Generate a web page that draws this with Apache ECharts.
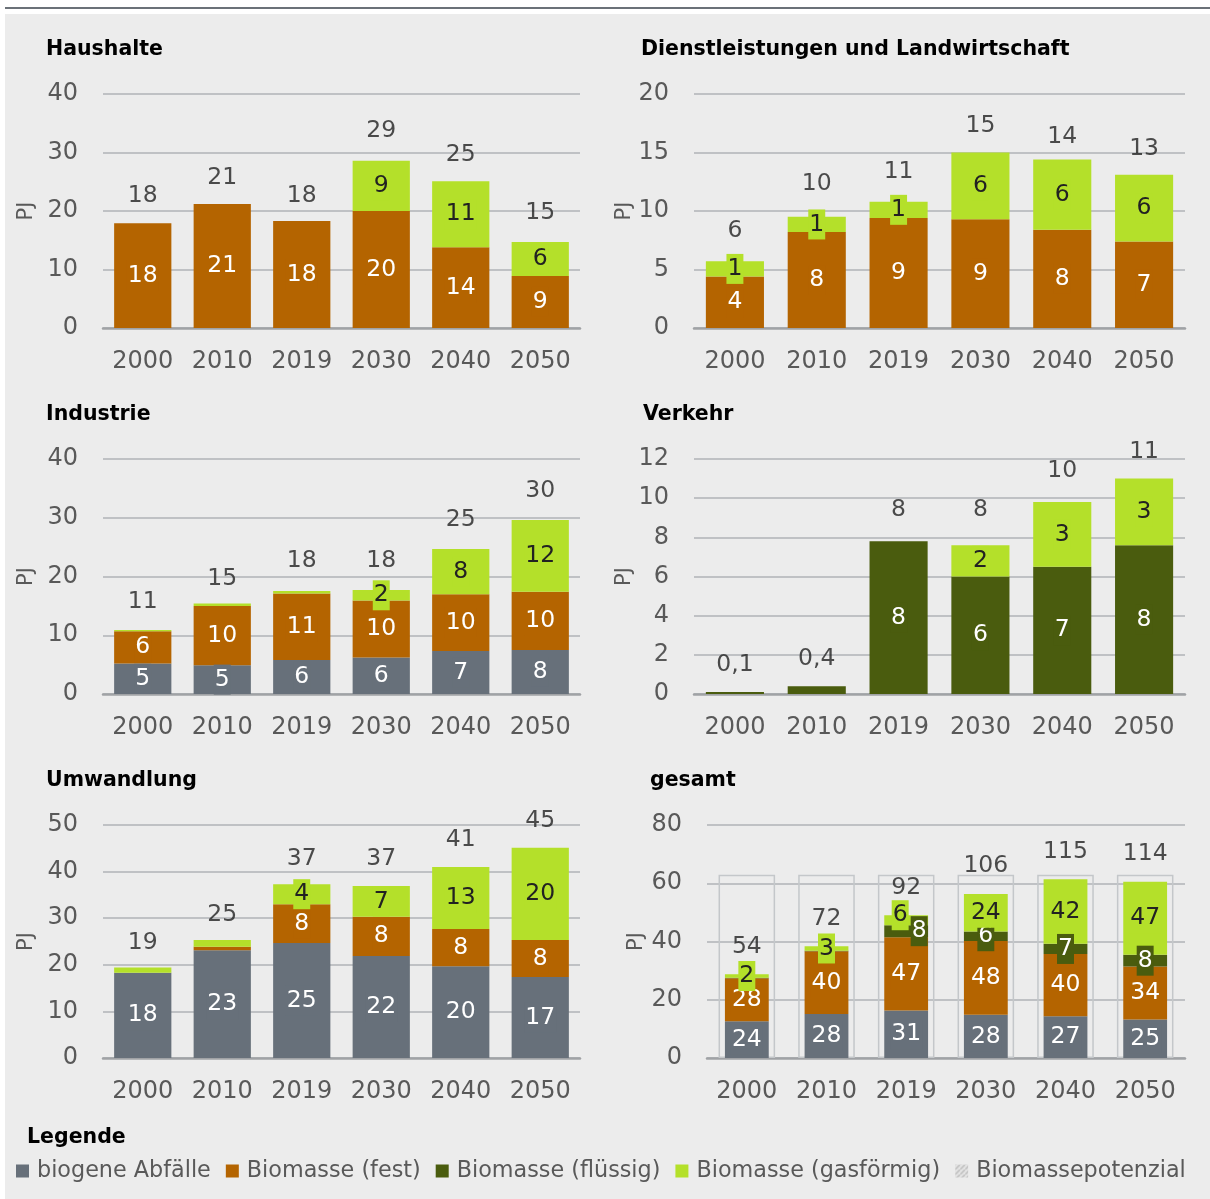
<!DOCTYPE html>
<html>
<head>
<meta charset="utf-8">
<script src="https://cdn.jsdelivr.net/npm/echarts@6/dist/echarts.min.js"></script>
<style>
  html, body { margin: 0; padding: 0; background: #fff; }
  .topline { position: absolute; left: 5px; top: 7px; width: 1205px; height: 2px; background: #6b7178; }
  .panel { position: absolute; left: 5px; top: 14px; width: 1205px; height: 1185px; background: #ececec; }
  #chart { position: absolute; left: 0; top: 0; width: 1210px; height: 1199px; }
</style>
</head>
<body>
<div class="topline"></div>
<div class="panel"></div>
<div id="chart"></div>
<script>
const years = ['2000', '2010', '2019', '2030', '2040', '2050']

// Haushalte
const hhFest = [17.9, 21.2, 18.3, 20.0, 13.8, 8.9]
const hhGas = [0, 0, 0, 8.6, 11.3, 5.8]
const hhTotal = [18, 21, 18, 29, 25, 15]

// Dienstleistungen und Landwirtschaft
const dlFest = [4.4, 8.2, 9.4, 9.3, 8.4, 7.4]
const dlGas = [1.3, 1.3, 1.4, 5.7, 6.0, 5.7]
const dlTotal = [6, 10, 11, 15, 14, 13]

// Industrie
const inAbf = [5.2, 4.9, 5.8, 6.2, 7.3, 7.5]
const inFest = [5.5, 10.1, 11.3, 9.7, 9.7, 9.9]
const inGas = [0.2, 0.4, 0.45, 1.8, 7.7, 12.2]
const inTotal = [11, 15, 18, 18, 25, 30]

// Verkehr
const vkFl = [0.1, 0.4, 7.8, 6.0, 6.5, 7.6]
const vkGas = [0, 0, 0, 1.6, 3.3, 3.4]
const vkTotal = [0.1, 0.4, 8, 8, 10, 11]

// Umwandlung
const umAbf = [18.3, 23.1, 24.7, 21.9, 19.7, 17.4]
const umFest = [0, 0.8, 8.3, 8.4, 8.0, 7.9]
const umGas = [1.1, 1.4, 4.3, 6.6, 13.3, 19.8]
const umTotal = [19, 25, 37, 37, 41, 45]

// gesamt
const gsAbf = [23.6, 28.3, 30.5, 27.8, 26.8, 24.8]
const gsFest = [27.8, 40.4, 47.3, 47.6, 40.1, 34.1]
const gsFl = [0.3, 0.4, 7.7, 6.0, 6.6, 7.5]
const gsGas = [2.2, 2.8, 6.4, 24.2, 41.6, 47.0]
const gsTotal = [54, 72, 92, 106, 115, 114]
const gsPot = [118, 118, 118, 118, 118, 118]
const gsTicks = ['0', '20', '40', '60', '80']

const FONT = 'DejaVu Sans'
const TXT = '#595959'
const COLORS = {
  abf: '#67707a',
  fest: '#b46400',
  fl: '#4a5c0e',
  gas: '#b4e02a'
}
const NAMES = {
  abf: 'biogene Abfälle',
  fest: 'Biomasse (fest)',
  fl: 'Biomasse (flüssig)',
  gas: 'Biomasse (gasförmig)'
}
const LABEL_COLORS = { abf: '#fff', fest: '#fff', fl: '#fff', gas: '#222' }

const panels = [
  { title: 'Haushalte', tx: 46, ty: 39, grid: { left: 103, top: 94, width: 477, height: 234 },
    max: 40, interval: 10, nameGap: 66, barWidth: '72%', minLabel: 1,
    series: { fest: hhFest, gas: hhGas }, total: hhTotal },
  { title: 'Dienstleistungen und Landwirtschaft', tx: 641, ty: 39, grid: { left: 694, top: 94, width: 491, height: 234 },
    max: 20, interval: 5, nameGap: 47, barWidth: '71%', minLabel: 1,
    series: { fest: dlFest, gas: dlGas }, total: dlTotal },
  { title: 'Industrie', tx: 46, ty: 404, grid: { left: 103, top: 459, width: 477, height: 235 },
    max: 40, interval: 10, nameGap: 66, barWidth: '72%', minLabel: 1,
    series: { abf: inAbf, fest: inFest, gas: inGas }, total: inTotal },
  { title: 'Verkehr', tx: 643, ty: 404, grid: { left: 694, top: 459, width: 491, height: 235 },
    max: 12, interval: 2, nameGap: 48, barWidth: '71%', minLabel: 1,
    series: { fl: vkFl, gas: vkGas }, total: vkTotal },
  { title: 'Umwandlung', tx: 46, ty: 770, grid: { left: 103, top: 825, width: 477, height: 233 },
    max: 50, interval: 10, nameGap: 66, barWidth: '72%', minLabel: 2,
    series: { abf: umAbf, fest: umFest, gas: umGas }, total: umTotal },
  { title: 'gesamt', tx: 650, ty: 770, grid: { left: 707, top: 825, width: 478, height: 233 },
    max: 150, interval: 37.5, ticks: gsTicks, nameGap: 60, barWidth: '55%', minLabel: 1,
    series: { abf: gsAbf, fest: gsFest, fl: gsFl, gas: gsGas }, total: gsTotal,
    potential: gsPot,
    offsets: { gas: { 2: [-6, -5] }, fl: { 2: [13, 0] } } }
]

const option = {
  animation: false,
  title: [],
  grid: [],
  xAxis: [],
  yAxis: [],
  series: []
}

panels.forEach((p, i) => {
  option.title.push({
    text: p.title, left: p.tx, top: p.ty, padding: 0,
    textStyle: { fontFamily: FONT, fontWeight: 'bold', fontSize: 20.5, color: '#000' }
  })
  option.grid.push(Object.assign({ containLabel: false }, p.grid))
  option.xAxis.push({
    type: 'category', gridIndex: i, data: years,
    axisTick: { show: false },
    axisLine: { lineStyle: { color: '#a0a2a5', width: 2.5 } },
    axisLabel: { fontFamily: FONT, fontSize: 24, color: TXT, margin: 22 }
  })
  option.yAxis.push({
    type: 'value', gridIndex: i, min: 0, max: p.max, interval: p.interval,
    name: 'PJ', nameLocation: 'middle', nameGap: p.nameGap,
    nameTextStyle: { fontFamily: FONT, fontSize: 21, color: TXT },
    axisLabel: {
      fontFamily: FONT, fontSize: 24, color: TXT, margin: 25, padding: [5, 0, 0, 0],
      formatter: p.ticks ? (v, idx) => p.ticks[idx] : null
    },
    splitLine: { lineStyle: { color: '#bfc1c4', width: 2 } }
  })
  const xIdx = option.xAxis.length - 1
  const yIdx = option.yAxis.length - 1

  if (p.potential) {
    option.xAxis.push({ type: 'category', gridIndex: i, data: years, show: false })
    option.series.push({
      name: 'Biomassepotenzial', type: 'bar',
      xAxisIndex: option.xAxis.length - 1, yAxisIndex: yIdx,
      data: p.potential, barWidth: '71%', z: 1, silent: true,
      itemStyle: { color: 'rgba(0,0,0,0)', borderColor: '#c4c7ca', borderWidth: 1.5 }
    })
  }

  Object.keys(p.series).forEach(key => {
    const offs = (p.offsets && p.offsets[key]) || {}
    option.series.push({
      name: NAMES[key], type: 'bar', stack: 'p' + i,
      xAxisIndex: xIdx, yAxisIndex: yIdx, barWidth: p.barWidth, z: 3,
      itemStyle: { color: COLORS[key] },
      label: {
        show: true, position: 'inside', fontFamily: FONT, fontSize: 23.5,
        color: LABEL_COLORS[key], backgroundColor: COLORS[key], padding: [3, 1],
        formatter: d => String(Math.round(d.value))
      },
      data: p.series[key].map((v, j) => ({
        value: v,
        label: offs[j] ? { show: v >= p.minLabel, offset: offs[j] } : { show: v >= p.minLabel }
      }))
    })
  })

  option.series.push({
    type: 'scatter', xAxisIndex: xIdx, yAxisIndex: yIdx, symbolSize: 0, z: 5, silent: true,
    label: {
      show: true, position: 'top', distance: 15, fontFamily: FONT, fontSize: 23.5, color: '#222',
      formatter: d => String(d.value).replace('.', ',')
    },
    data: p.total
  })
})

// hatched icon for Biomassepotenzial
const hatch = document.createElement('canvas')
hatch.width = 5
hatch.height = 5
const hctx = hatch.getContext('2d')
hctx.fillStyle = '#e4e4e4'
hctx.fillRect(0, 0, 5, 5)
hctx.strokeStyle = '#bdbdbd'
hctx.lineWidth = 1.5
hctx.beginPath()
hctx.moveTo(-1, 6); hctx.lineTo(6, -1)
hctx.stroke()

option.title.push({
  text: 'Legende', left: 27, top: 1127, padding: 0,
  textStyle: { fontFamily: FONT, fontWeight: 'bold', fontSize: 20.5, color: '#000' }
})
option.legend = {
  left: 16, top: 1160, padding: 0,
  icon: 'rect', itemWidth: 13, itemHeight: 13, itemGap: 15,
  selectedMode: false,
  textStyle: { fontFamily: FONT, fontSize: 22.3, color: TXT, padding: [0, 0, 0, 3] },
  data: [
    NAMES.abf, NAMES.fest, NAMES.fl, NAMES.gas,
    { name: 'Biomassepotenzial', itemStyle: { color: { image: hatch, repeat: 'repeat' }, borderWidth: 0 } }
  ]
}

const chart = echarts.init(document.getElementById('chart'))
chart.setOption(option)
</script>
</body>
</html>
